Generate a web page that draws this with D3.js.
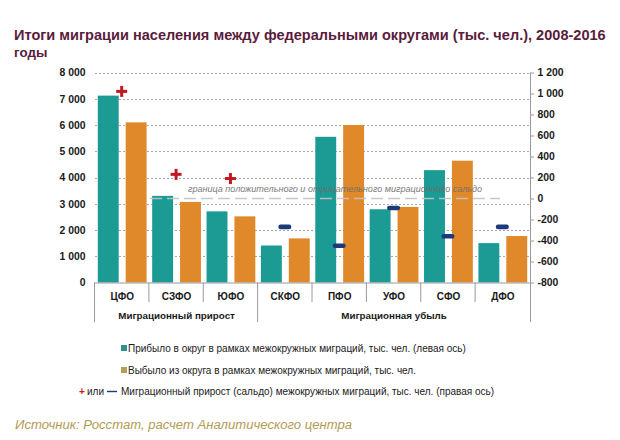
<!DOCTYPE html>
<html><head><meta charset="utf-8">
<script src="https://cdn.jsdelivr.net/npm/d3@7"></script>
<style>body{margin:0;background:#fff}</style>
</head><body><svg id="c" width="620" height="440"></svg>
<script>
const categories = ["ЦФО","СЗФО","ЮФО","СКФО","ПФО","УФО","СФО","ДФО"];
const arrived  = [7120, 3300, 2710, 1410, 5550, 2790, 4280, 1500];
const departed = [6100, 3070, 2520, 1680, 6000, 2880, 4640, 1770];
const saldo    = [1020,  230,  190, -270, -450,  -90, -360, -270];
const leftTicks  = [0,1000,2000,3000,4000,5000,6000,7000,8000];
const rightTicks = [-800,-600,-400,-200,0,200,400,600,800,1000,1200];
const groupNames = ["Миграционный прирост","Миграционная убыль"];
const groupFirst = [0,3];
const groupLast  = [2,7];
const titleLines = ["Итоги миграции населения между федеральными округами (тыс. чел.), 2008-2016","годы"];
const legendTexts = [
  "Прибыло в округ в рамках межокружных миграций, тыс. чел. (левая ось)",
  "Выбыло из округа в рамках межокружных миграций, тыс. чел.",
  "Миграционный прирост (сальдо) межокружных миграций, тыс. чел. (правая ось)"
];
const zeroLabel = "граница положительного и отрицательного миграционного сальдо";
const sourceText = "Источник: Росстат, расчет Аналитического центра";

const TEAL = "#1b9b94", ORANGE = "#e0892b", RED = "#c21822", NAVY = "#1c3a7a";
const FONT = "'Liberation Sans', Arial, sans-serif";

const svg = d3.select("#c");
const L = 95, R = 530, TOP = 72.5, BOT = 282.5;

const x = d3.scaleBand().domain(categories).range([L, R]).padding(0);
const xs = d3.scaleBand().domain(["a","d"]).range([0, x.bandwidth()]).paddingInner(0.25).paddingOuter(0.1);
const yL = d3.scaleLinear().domain([0, 8000]).range([BOT, TOP]);
const yR = d3.scaleLinear().domain([-800, 1200]).range([BOT, TOP]);

const loc = d3.formatLocale({decimal: ",", thousands: "\u00a0", grouping: [3], currency: ["", ""], minus: "-"});
const fmt = loc.format(",");

function fit(sel, w) {
  const fs = parseFloat(sel.attr("font-size"));
  const cw = sel.node().getComputedTextLength();
  sel.attr("font-size", (fs * w / cw).toFixed(2));
}

// title
svg.append("text").attr("x", 14).attr("y", 39.5).attr("font-family", FONT).attr("font-weight", "bold")
  .attr("font-size", 14).attr("fill", "#5a1c3c").text(titleLines[0]).call(fit, 592);
svg.append("text").attr("x", 14).attr("y", 56.5).attr("font-family", FONT).attr("font-weight", "bold")
  .attr("font-size", 13.4).attr("fill", "#5a1c3c").text(titleLines[1]);

// gridlines
svg.append("g").selectAll("line").data(leftTicks.filter(d => d > 0)).join("line")
  .attr("x1", L).attr("x2", R).attr("y1", d => Math.round(yL(d)) + 0.5).attr("y2", d => Math.round(yL(d)) + 0.5)
  .attr("stroke", "#a8a8a8").attr("stroke-width", 1).attr("stroke-dasharray", "2,2");

// bars
const gb = svg.append("g");
gb.selectAll("rect.a").data(categories).join("rect").attr("class", "a")
  .attr("x", (d) => x(d) + xs("a")).attr("width", xs.bandwidth())
  .attr("y", (d, i) => yL(arrived[i])).attr("height", (d, i) => yL(0) - yL(arrived[i])).attr("fill", TEAL);
gb.selectAll("rect.d").data(categories).join("rect").attr("class", "d")
  .attr("x", (d) => x(d) + xs("d")).attr("width", xs.bandwidth())
  .attr("y", (d, i) => yL(departed[i])).attr("height", (d, i) => yL(0) - yL(departed[i])).attr("fill", ORANGE);

// zero-saldo boundary line (on top of bars)
svg.append("line").attr("x1", 150).attr("x2", 500).attr("y1", yR(0)).attr("y2", yR(0))
  .attr("stroke", "#c4c4c4").attr("stroke-width", 1.6).attr("stroke-dasharray", "12,5").attr("opacity", 0.9);
svg.append("text").attr("x", 335).attr("y", 191.5).attr("text-anchor", "middle")
  .attr("font-family", FONT).attr("font-style", "italic").attr("font-size", 10).attr("fill", "#6e6e6e")
  .attr("opacity", 0.9).text(zeroLabel).call(fit, 294);

// saldo markers
const gm = svg.append("g");
categories.forEach((c, i) => {
  const cx = x(c) + x.bandwidth() / 2 - 0.5, cy = yR(saldo[i]);
  if (saldo[i] >= 0) {
    gm.append("line").attr("x1", cx - 5.5).attr("x2", cx + 5.5).attr("y1", cy).attr("y2", cy).attr("stroke", RED).attr("stroke-width", 3);
    gm.append("line").attr("x1", cx).attr("x2", cx).attr("y1", cy - 5.5).attr("y2", cy + 5.5).attr("stroke", RED).attr("stroke-width", 3);
  } else {
    gm.append("rect").attr("x", cx - 6.5).attr("y", cy - 2.3).attr("width", 13).attr("height", 4.6).attr("rx", 2.2).attr("fill", NAVY);
  }
});

// baseline
svg.append("line").attr("x1", L - 1).attr("x2", R).attr("y1", BOT + 0.5).attr("y2", BOT + 0.5).attr("stroke", "#9a9a9a");

// left axis
const ax = svg.append("g").attr("transform", `translate(${L},0)`)
  .call(d3.axisLeft(yL).tickValues(leftTicks).tickSize(0).tickPadding(9.5).tickFormat(fmt));
ax.select(".domain").remove();
ax.selectAll("text").attr("font-family", FONT).attr("font-weight", "bold").attr("font-size", 10.4).attr("fill", "#1a1a1a");

// right axis
const ar = svg.append("g").attr("transform", `translate(${R + 0.5},0)`)
  .call(d3.axisRight(yR).tickValues(rightTicks).tickSize(3.5).tickPadding(3.5).tickFormat(fmt));
ar.select(".domain").remove();
ar.selectAll(".tick line").attr("stroke", "#9a9a9a");
ar.selectAll("text").attr("font-family", FONT).attr("font-weight", "bold").attr("font-size", 10.4).attr("fill", "#1a1a1a");
svg.append("line").attr("x1", R + 0.5).attr("x2", R + 0.5).attr("y1", TOP).attr("y2", 322).attr("stroke", "#9a9a9a");

// category separators
const bounds = d3.range(categories.length);
const longB = new Set([groupFirst[0], groupFirst[1]]);
svg.append("g").selectAll("line").data(bounds).join("line")
  .attr("x1", b => L + b * x.bandwidth() - 0.5).attr("x2", b => L + b * x.bandwidth() - 0.5)
  .attr("y1", BOT).attr("y2", b => longB.has(b) ? 322 : 302)
  .attr("stroke", "#9a9a9a");

// category labels
svg.append("g").selectAll("text").data(categories).join("text")
  .attr("x", d => x(d) + x.bandwidth() / 2).attr("y", 299.5).attr("text-anchor", "middle")
  .attr("font-family", FONT).attr("font-weight", "bold").attr("font-size", 10).attr("fill", "#1a1a1a").text(d => d);

// group labels
svg.append("g").selectAll("text").data(groupNames).join("text")
  .attr("x", (d, i) => (x(categories[groupFirst[i]]) + x(categories[groupLast[i]]) + x.bandwidth()) / 2)
  .attr("y", 319).attr("text-anchor", "middle")
  .attr("font-family", FONT).attr("font-weight", "bold").attr("font-size", 9.8).attr("fill", "#1a1a1a").text(d => d);

// legend
const lg = svg.append("g").attr("font-family", FONT).attr("font-size", 10).attr("fill", "#1a1a1a");
lg.append("rect").attr("x", 121).attr("y", 345).attr("width", 6).attr("height", 6).attr("fill", "#2a918b");
lg.append("text").attr("x", 128).attr("y", 352).text(legendTexts[0]).call(fit, 356);
lg.append("rect").attr("x", 121).attr("y", 367).attr("width", 6).attr("height", 6).attr("fill", "#b79d5c");
lg.append("text").attr("x", 128).attr("y", 374).text(legendTexts[1]).call(fit, 306);
lg.append("text").attr("x", 79).attr("y", 395).attr("fill", RED).attr("font-weight", "bold").text("+");
lg.append("text").attr("x", 87).attr("y", 395).text("или");
lg.append("line").attr("x1", 107).attr("x2", 117).attr("y1", 391.5).attr("y2", 391.5).attr("stroke", NAVY).attr("stroke-width", 1.4);
lg.append("text").attr("x", 121).attr("y", 395).text(legendTexts[2]).call(fit, 401);

// source
svg.append("text").attr("x", 15).attr("y", 428.5).attr("font-family", FONT).attr("font-style", "italic")
  .attr("font-size", 12).attr("fill", "#b39a52").text(sourceText).call(fit, 337);
</script></body></html>
